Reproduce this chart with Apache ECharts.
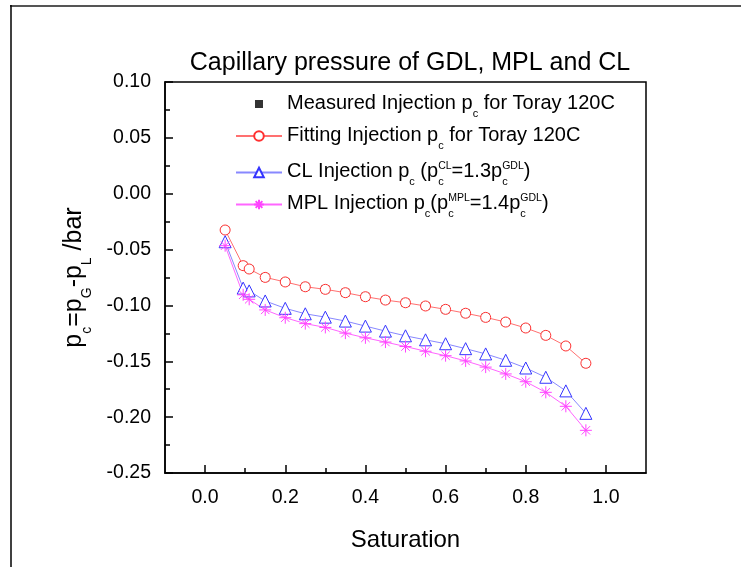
<!DOCTYPE html>
<html>
<head>
<meta charset="utf-8">
<script src="https://cdn.jsdelivr.net/npm/echarts@6/dist/echarts.min.js"></script>
<style>html,body{margin:0;padding:0;background:#fff}#c{width:741px;height:567px}</style>
</head>
<body>
<div id="c"></div>
<script>
const saturation = [0.05,0.095,0.11,0.15,0.2,0.25,0.3,0.35,0.4,0.45,0.5,0.55,0.6,0.65,0.7,0.75,0.8,0.85,0.9,0.95];
const measuredPc = [-0.0325,-0.0644,-0.0674,-0.0749,-0.0790,-0.0833,-0.0856,-0.0886,-0.0922,-0.0952,-0.0976,-0.1005,-0.1035,-0.1070,-0.1107,-0.1149,-0.1202,-0.1268,-0.1363,-0.1518];
const fittingPc = [-0.0325,-0.0644,-0.0674,-0.0749,-0.0790,-0.0833,-0.0856,-0.0886,-0.0922,-0.0952,-0.0976,-0.1005,-0.1035,-0.1070,-0.1107,-0.1149,-0.1202,-0.1268,-0.1363,-0.1518];
const clPc = [-0.0430,-0.0845,-0.0870,-0.0960,-0.1026,-0.1075,-0.1105,-0.1140,-0.1185,-0.1230,-0.1272,-0.1308,-0.1343,-0.1387,-0.1434,-0.1491,-0.1560,-0.1643,-0.1765,-0.1966];
const mplPc = [-0.0465,-0.0905,-0.0945,-0.1040,-0.1110,-0.1163,-0.1197,-0.1248,-0.1290,-0.1328,-0.1368,-0.1410,-0.1450,-0.1497,-0.1552,-0.1613,-0.1683,-0.1778,-0.1903,-0.2118];
const xMajorTicks = [0, 0.2, 0.4, 0.6, 0.8, 1.0];
const xMinorTicks = [0.1, 0.3, 0.5, 0.7, 0.9];
const seriesNames = ['Measured', 'Fitting', 'CL', 'MPL'];
const titleText = 'Capillary pressure of GDL, MPL and CL';

const FONT = 'Liberation Sans, Arial, sans-serif';
const pairs = a => saturation.map((x, i) => [x, a[i]]);

const legendText = {
  Measured: '{t|Measured Injection p}{sub|c}{t| for Toray 120C}',
  Fitting: '{t|Fitting Injection p}{sub|c}{t| for Toray 120C}',
  CL: '{t|CL Injection p}{sub|c}{t| (p}{subz|c}{supA|CL}{t|=1.3p}{subz|c}{supA|GDL}{t|)}',
  MPL: '{t|MPL Injection p}{sub|c}{t|(p}{subz|c}{supB|MPL}{t|=1.4p}{subz|c}{supB|GDL}{t|)}'
};

const base = {fontFamily: FONT, color: '#000', verticalAlign: 'bottom'};
const rich = {
  t: Object.assign({}, base, {fontSize: 20, lineHeight: 22, padding: [16, 0, 6, 0]}),
  sub: Object.assign({}, base, {fontSize: 11, lineHeight: 11}),
  subz: Object.assign({}, base, {fontSize: 11, lineHeight: 11, width: 0.01}),
  supA: Object.assign({}, base, {fontSize: 10.5, lineHeight: 10, padding: [19.5, 0, 16, 0]}),
  supB: Object.assign({}, base, {fontSize: 10.5, lineHeight: 10, padding: [14.5, 0, 16, 0]})
};

const asterisk = 'path://M10 0L10 20M0 10L20 10M3 3L17 17M3 17L17 3';
const squareIcon = 'path://M0 0L0.01 0M46 12L46.01 12M19 2h8v8h-8z';

const chart = echarts.init(document.getElementById('c'), null, {renderer: 'canvas'});
chart.setOption({
  animation: false,
  backgroundColor: '#fff',
  title: {
    text: titleText, left: 405, top: 46, textAlign: 'center',
    textStyle: {fontFamily: FONT, fontSize: 25, fontWeight: 'normal', color: '#000'}
  },
  graphic: [
    {type: 'line', shape: {x1: 10, y1: 6, x2: 741, y2: 6}, style: {stroke: '#555', lineWidth: 2}},
    {type: 'line', shape: {x1: 11, y1: 5, x2: 11, y2: 567}, style: {stroke: '#000', lineWidth: 1.5}}
  ],
  grid: {left: 165, right: 95, top: 82, bottom: 94, show: true, borderColor: '#000', borderWidth: 1.5},
  legend: {
    orient: 'vertical', left: 230, top: 72, itemWidth: 46, itemHeight: 12, itemGap: -10,
    data: [{name: 'Measured', icon: squareIcon}, 'Fitting', 'CL', 'MPL'],
    formatter: n => legendText[n],
    textStyle: {rich: rich, padding: [8, 0, 0, 0]}
  },
  xAxis: [{
    type: 'value', min: -0.1, max: 1.1,
    name: 'Saturation', nameLocation: 'middle', nameGap: 55,
    nameTextStyle: {fontFamily: FONT, fontSize: 24, color: '#000'},
    axisLine: {onZero: false, lineStyle: {color: '#000', width: 1.5}},
    axisTick: {inside: true, length: 8, customValues: xMajorTicks, lineStyle: {color: '#000', width: 1.5}},
    axisLabel: {customValues: xMajorTicks, fontFamily: FONT, fontSize: 19.5, color: '#000', margin: 15,
      formatter: v => v.toFixed(1)},
    splitLine: {show: false}
  }, {
    type: 'value', min: -0.1, max: 1.1, position: 'bottom',
    axisLine: {show: false, onZero: false},
    axisTick: {inside: true, length: 5, customValues: xMinorTicks, lineStyle: {color: '#000', width: 1.5}},
    axisLabel: {show: false},
    splitLine: {show: false}
  }],
  yAxis: {
    type: 'value', min: -0.25, max: 0.10, interval: 0.05,
    name: '{t|p}{s|c}{t|=p}{s|G}{t|-p}{s|L}{t| /bar}', nameLocation: 'middle', nameGap: 77,
    nameTextStyle: {rich: {
      t: {fontFamily: FONT, fontSize: 25, color: '#000', lineHeight: 26, verticalAlign: 'top'},
      s: {fontFamily: FONT, fontSize: 14, color: '#000', lineHeight: 14, verticalAlign: 'top', padding: [18, 0, 0, 0]}
    }},
    axisLine: {onZero: false, lineStyle: {color: '#000', width: 1.5}},
    axisTick: {inside: true, length: 8, lineStyle: {color: '#000', width: 1.5}},
    minorTick: {show: true, splitNumber: 2, length: 5, lineStyle: {color: '#000', width: 1.5}},
    axisLabel: {fontFamily: FONT, fontSize: 19.5, color: '#000', margin: 14, formatter: v => v.toFixed(2)},
    splitLine: {show: false}
  },
  series: [
    {name: 'Measured', type: 'scatter', data: pairs(measuredPc), symbol: 'rect', symbolSize: 8,
     itemStyle: {color: '#000'}, z: 2},
    {name: 'Fitting', type: 'line', data: pairs(fittingPc), symbol: 'circle', symbolSize: 10,
     lineStyle: {color: '#ff7070', width: 1}, itemStyle: {color: '#fff', borderColor: '#ff3030', borderWidth: 1}, z: 3},
    {name: 'CL', type: 'line', data: pairs(clPc), symbol: 'triangle', symbolSize: 12,
     lineStyle: {color: '#8888ff', width: 1}, itemStyle: {color: '#fff', borderColor: '#3535ff', borderWidth: 1}, z: 3},
    {name: 'MPL', type: 'line', data: pairs(mplPc), symbol: asterisk, symbolSize: 12,
     lineStyle: {color: '#ff66ff', width: 1}, itemStyle: {color: 'rgba(0,0,0,0)', borderColor: '#ff44ff', borderWidth: 1}, z: 3}
  ]
});
</script>
</body>
</html>
